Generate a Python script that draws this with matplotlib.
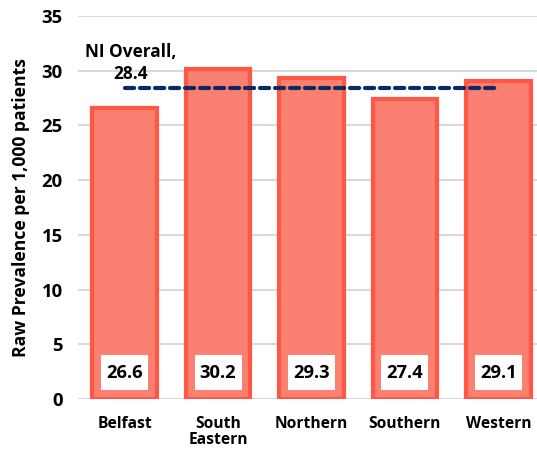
import matplotlib.pyplot as plt
from matplotlib.patches import Rectangle
from matplotlib.transforms import IdentityTransform
import numpy as np

categories = ["Belfast", "South\nEastern", "Northern", "Southern", "Western"]
values = [26.6, 30.2, 29.3, 27.4, 29.1]
overall = 28.4
yticks = [0, 5, 10, 15, 20, 25, 30, 35]

plt.rcParams['font.family'] = ['Open Sans', 'DejaVu Sans']
fig = plt.figure(figsize=(5.37, 4.54), dpi=100)
ax = fig.add_axes([78/537, 55/454, 467/537, 383/454])
renderer = fig.canvas.get_renderer()

def fit(t, target_px):
    w = t.get_window_extent(renderer).width
    t.set_fontsize(t.get_fontsize() * target_px / w)

x = np.arange(len(categories))
ax.bar(x, values, width=0.69, color='#FA8072', edgecolor='#FF5645', linewidth=3, zorder=3)
ax.plot([x[0], x[-1]], [overall, overall], linestyle=(0, (2.2, 1.4)), color='#0D2A63',
        linewidth=3, dash_capstyle='round', zorder=4)
t = ax.text(x[0] + 0.06, overall + 2.3, "NI Overall,\n28.4", ha='center', va='center',
            fontsize=10.5, fontweight='bold', linespacing=1.3, zorder=5)
fit(t, 92)

vtexts = []
for xi, v in zip(x, values):
    t = ax.text(xi, 2.4, f"{v:.1f}", ha='center', va='center', fontsize=10.5, fontweight='bold',
                zorder=7)
    fit(t, 37)
    vtexts.append(t)

ax.set_xlim(-0.5, len(categories) - 0.5)
ax.set_ylim(0, 35)
ax.set_autoscale_on(False)
ax.set_yticks(yticks)
ax.set_xticks(x)
ax.set_xticklabels(categories, fontsize=10, fontweight='bold', linespacing=1.05)
for lbl in ax.get_yticklabels():
    lbl.set_fontsize(11)
    lbl.set_fontweight('bold')
ax.tick_params(axis='both', length=0)
ax.tick_params(axis='y', pad=11)
ax.tick_params(axis='x', pad=12)
ax.grid(axis='y', color='#D9D9D9', linewidth=1.5, zorder=0)
for s in ax.spines.values():
    s.set_visible(False)
yl = ax.set_ylabel("Raw Prevalence per 1,000 patients", fontsize=10.5, fontweight='bold', labelpad=8)

fig.canvas.draw()
w_bel = ax.get_xticklabels()[0].get_window_extent(renderer).width
fs_x = 10 * 55 / w_bel
for lbl in ax.get_xticklabels():
    lbl.set_fontsize(fs_x)
w35 = ax.get_yticklabels()[-1].get_window_extent(renderer).width
fs_y = 11 * 21 / w35
for lbl in ax.get_yticklabels():
    lbl.set_fontsize(fs_y)
h_yl = yl.get_window_extent(renderer).height
yl.set_fontsize(10.5 * 300 / h_yl)

# white label boxes, 47x35 px around each value
for t in vtexts:
    cx, cy = ax.transData.transform(t.get_position())
    r = Rectangle((cx - 23.5, cy - 17.5), 47, 35, facecolor='white', edgecolor='none', zorder=6)
    r.set_transform(IdentityTransform())
    ax.add_artist(r)

fig.savefig('out.png', dpi=100)
